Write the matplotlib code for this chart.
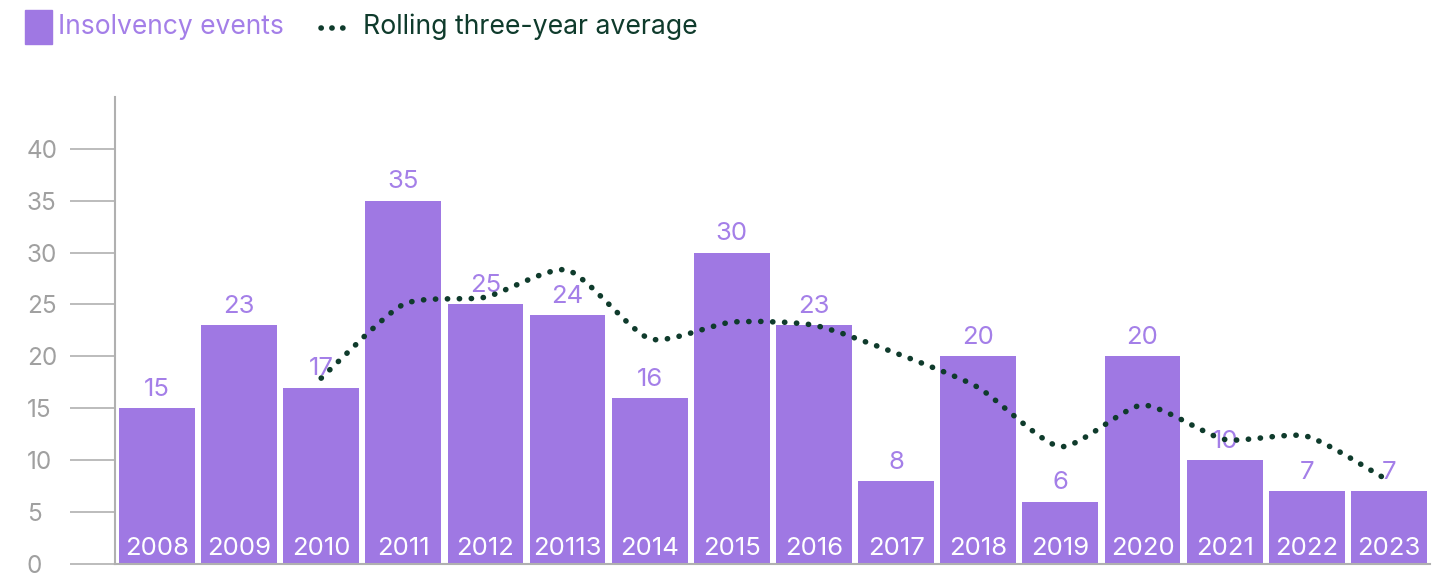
import numpy as np
import matplotlib.pyplot as plt
from matplotlib.path import Path
from matplotlib.patches import PathPatch, Rectangle
from matplotlib.lines import Line2D

years = ["2008", "2009", "2010", "2011", "2012", "20113", "2014", "2015",
         "2016", "2017", "2018", "2019", "2020", "2021", "2022", "2023"]
events = [15, 23, 17, 35, 25, 24, 16, 30, 23, 8, 20, 6, 20, 10, 7, 7]
# rolling three-year average, first point at 2010
rolling = [17.9, 25.0, 25.7, 28.3, 21.7, 23.3, 23.0, 20.3, 17.0, 11.3, 15.3, 12.0, 12.3, 8.0]
rolling_start = 2

bar_color = "#9f78e3"
label_color = "#a47fe8"
line_color = "#0f3b2c"
grey = "#a0a0a0"
dots = (0, (0.05, 2.1))

plt.rcParams['font.family'] = ['Inter', 'DejaVu Sans']

fig = plt.figure(figsize=(14.36, 5.74), dpi=100)
ax = fig.add_axes([0.0801, 0.0174, 0.9157, 0.814])

x = np.arange(len(events))
ax.bar(x, events, width=0.923, color=bar_color, zorder=2)

for xi, v, yr in zip(x, events, years):
    ax.text(xi, v + 0.7, str(v), ha="center", va="bottom", color=label_color, fontsize=18.5)
    ax.text(xi, 0.35, yr, ha="center", va="bottom", color="white", fontsize=18.5)

# smooth dotted curve through the rolling averages (bezier segments)
px = x[rolling_start:rolling_start + len(rolling)].astype(float)
py = np.array(rolling, dtype=float)
verts = [(px[0], py[0])]
codes = [Path.MOVETO]
n = len(px)
k = 1 / 9
for i in range(n - 1):
    p0 = (px[max(i - 1, 0)], py[max(i - 1, 0)])
    p1 = (px[i], py[i])
    p2 = (px[i + 1], py[i + 1])
    p3 = (px[min(i + 2, n - 1)], py[min(i + 2, n - 1)])
    c1 = (p1[0] + (p2[0] - p0[0]) * k, p1[1] + (p2[1] - p0[1]) * k)
    c2 = (p2[0] - (p3[0] - p1[0]) * k, p2[1] - (p3[1] - p1[1]) * k)
    verts += [c1, c2, p2]
    codes += [Path.CURVE4] * 3
curve = PathPatch(Path(verts, codes), fill=False, edgecolor=line_color, linewidth=4,
                  linestyle=dots, capstyle="round", zorder=3)
ax.add_patch(curve)

ax.set_xlim(-0.51, 15.5)
ax.set_ylim(0, 45)
ax.set_yticks(range(0, 45, 5))
ax.set_xticks([])
ax.tick_params(axis="y", length=32.4, width=1.2, color="#b0b0b0", labelcolor=grey,
               labelsize=17.5, pad=31)
for s in ["top", "right"]:
    ax.spines[s].set_visible(False)
ax.spines["left"].set_color("#b0b0b0")
ax.spines["left"].set_linewidth(1.5)
ax.spines["bottom"].set_color("#b0b0b0")
ax.spines["bottom"].set_linewidth(1.5)
for lbl in ax.get_yticklabels():
    lbl.set_horizontalalignment("left")

# legend
fig.add_artist(Rectangle((25 / 1436, 1 - 44 / 574), 27 / 1436, 34 / 574,
                         transform=fig.transFigure, color=bar_color))
fig.text(58 / 1436, 1 - 27 / 574, "Insolvency events", color=label_color, fontsize=19,
         va="center", ha="left")
fig.add_artist(Line2D([321 / 1436, 353 / 1436], [1 - 28 / 574, 1 - 28 / 574],
                      transform=fig.transFigure, color=line_color, linewidth=4,
                      linestyle=(0, (0.05, 1.9)), dash_capstyle="round"))
fig.text(363 / 1436, 1 - 27 / 574, "Rolling three-year average", color=line_color,
         fontsize=19.2, va="center", ha="left")

fig.savefig("out.png", dpi=100)
